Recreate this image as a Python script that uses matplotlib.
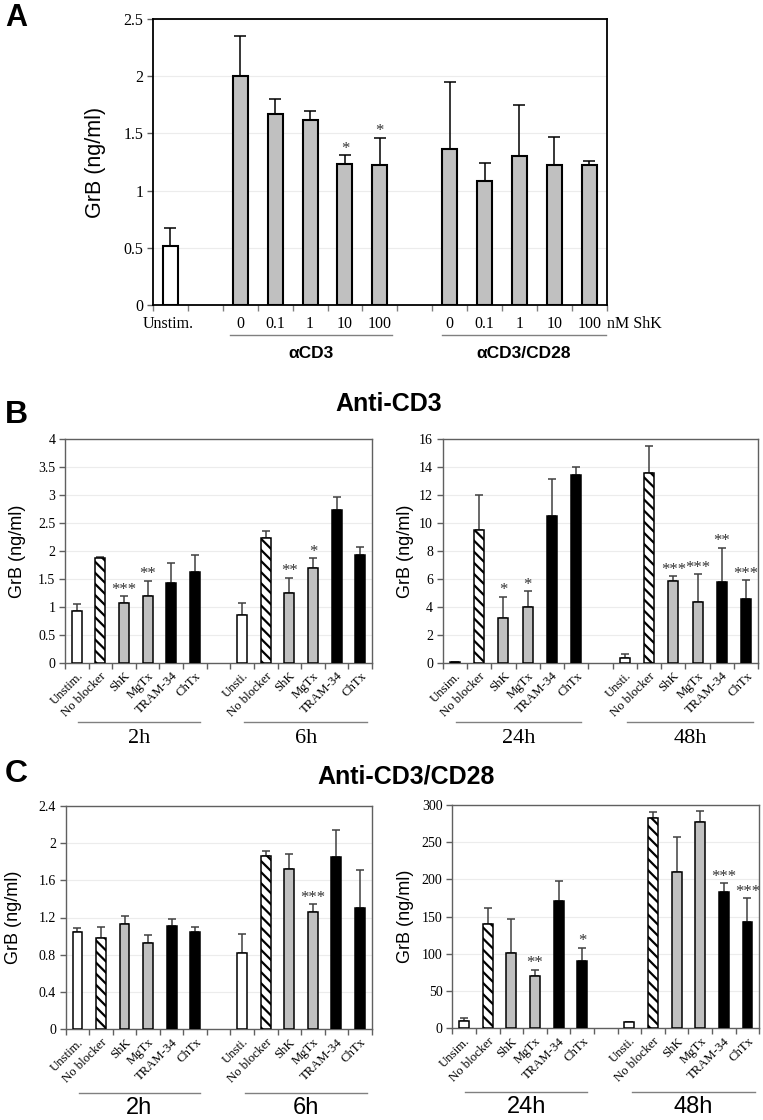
import matplotlib
matplotlib.use('Agg')
import matplotlib.pyplot as plt
import numpy as np
from matplotlib.transforms import blended_transform_factory
from matplotlib.lines import Line2D

SERIF = 'Liberation Serif'
SANS = 'Liberation Sans'
plt.rcParams['hatch.linewidth'] = 1.6

# ---------------- data ----------------
# Panel A
a_doses = ['0', '0.1', '1', '10', '100']
a_unstim_val = 0.52
a_unstim_err = 0.15
a_cd3_vals = [2.00, 1.67, 1.62, 1.23, 1.22]
a_cd3_errs = [0.35, 0.13, 0.08, 0.08, 0.24]
a_cd3_sig = ['', '', '', '*', '*']
a_cd28_vals = [1.36, 1.08, 1.30, 1.22, 1.22]
a_cd28_errs = [0.59, 0.16, 0.45, 0.25, 0.04]
a_cd28_sig = ['', '', '', '', '']
a_yticks = [0, 0.5, 1, 1.5, 2, 2.5]
a_yticklabels = ['0', '0.5', '1', '1.5', '2', '2.5']

treat_first = ['Unstim.', 'No blocker', 'ShK', 'MgTx', 'TRAM-34', 'ChTx']
treat_first_r = ['Unsim.', 'No blocker', 'ShK', 'MgTx', 'TRAM-34', 'ChTx']
treat_second = ['Unsti.', 'No blocker', 'ShK', 'MgTx', 'TRAM-34', 'ChTx']

# Panel B (anti-CD3)
b_2h_vals = [0.93, 1.87, 1.08, 1.19, 1.42, 1.62]
b_2h_errs = [0.12, 0.03, 0.11, 0.28, 0.37, 0.30]
b_2h_sig = ['', '', '***', '**', '', '']
b_6h_vals = [0.85, 2.23, 1.25, 1.69, 2.74, 1.92]
b_6h_errs = [0.23, 0.12, 0.27, 0.18, 0.23, 0.16]
b_6h_sig = ['', '', '**', '*', '', '']
b_24h_vals = [0.05, 9.48, 3.18, 4.01, 10.5, 13.45]
b_24h_errs = [0.03, 2.50, 1.57, 1.10, 2.65, 0.57]
b_24h_sig = ['', '', '*', '*', '', '']
b_48h_vals = [0.38, 13.6, 5.87, 4.37, 5.80, 4.58]
b_48h_errs = [0.24, 1.87, 0.31, 1.96, 2.44, 1.34]
b_48h_sig = ['', '', '***', '***', '**', '***']
b_left_yticks = [0, 0.5, 1, 1.5, 2, 2.5, 3, 3.5, 4]
b_left_ytl = ['0', '0.5', '1', '1.5', '2', '2.5', '3', '3.5', '4']
b_right_yticks = [0, 2, 4, 6, 8, 10, 12, 14, 16]
b_right_ytl = ['0', '2', '4', '6', '8', '10', '12', '14', '16']

# Panel C (anti-CD3/CD28)
c_2h_vals = [1.04, 0.976, 1.127, 0.93, 1.109, 1.04]
c_2h_errs = [0.047, 0.118, 0.093, 0.082, 0.071, 0.054]
c_2h_sig = ['', '', '', '', '', '']
c_6h_vals = [0.815, 1.856, 1.717, 1.255, 1.849, 1.302]
c_6h_errs = [0.21, 0.054, 0.161, 0.086, 0.286, 0.404]
c_6h_sig = ['', '', '', '***', '', '']
c_24h_vals = [9.9, 140.6, 100.7, 70.3, 170.6, 90.9]
c_24h_errs = [3.5, 21.4, 45.7, 8.1, 27.8, 17.0]
c_24h_sig = ['', '', '', '**', '', '*']
c_48h_vals = [9.0, 283.0, 210.4, 276.7, 183.6, 142.8]
c_48h_errs = [0.0, 7.0, 46.6, 14.8, 11.2, 31.8]
c_48h_sig = ['', '', '', '', '***', '***']
c_left_yticks = [0, 0.4, 0.8, 1.2, 1.6, 2.0, 2.4]
c_left_ytl = ['0', '0.4', '0.8', '1.2', '1.6', '2', '2.4']
c_right_yticks = [0, 50, 100, 150, 200, 250, 300]
c_right_ytl = ['0', '50', '100', '150', '200', '250', '300']

# ---------------- styles ----------------
treat_face = ['white', 'white', '#c0c0c0', '#c0c0c0', 'black', 'black']
treat_hatch = [None, '\\\\\\', None, None, None, None]

W, H = 763, 1120
fig = plt.figure(figsize=(W / 100, H / 100), dpi=100)


def add_ax(l, t, r, b):
    return fig.add_axes([l / W, 1 - b / H, (r - l) / W, (b - t) / H])


def style_axes(ax, yticks, ytl, ylim, spine_col, spine_lw, tick_fs):
    ax.set_xlim(0, 13)
    ax.set_ylim(*ylim)
    ax.set_yticks(yticks)
    ax.set_yticklabels(ytl, fontfamily=SERIF, fontsize=tick_fs)
    ax.set_xticks(np.arange(0, 14))
    ax.set_xticklabels([])
    ax.tick_params(axis='x', which='major', direction='out', length=4,
                   color='#606060', width=1)
    ax.tick_params(axis='y', direction='out', length=4, color='#606060',
                   width=1, pad=3)
    for s in ax.spines.values():
        s.set_color(spine_col)
        s.set_linewidth(spine_lw)
    ax.set_axisbelow(True)
    ax.yaxis.grid(True, color='#ececec', lw=0.8)


def draw_bars(ax, xs, vals, errs, faces, hatches, sigs, ecol, lw, capsize,
              width, star_fs):
    for x, v, f, h in zip(xs, vals, faces, hatches):
        ax.bar(x, v, width=width, color=f, edgecolor='black', linewidth=lw,
               hatch=h, zorder=3)
    ax.errorbar(xs, vals, yerr=[np.zeros(len(vals)), errs], fmt='none',
                ecolor=ecol, elinewidth=1.1, capsize=capsize, capthick=1.1,
                zorder=2)
    for x, v, e, s in zip(xs, vals, errs, sigs):
        if s:
            ax.annotate(s, (x, v + e), xytext=(0, -1), textcoords='offset points',
                        ha='center', va='bottom', fontfamily=SERIF,
                        fontsize=star_fs, color='#333333')


# ---------------- Panel A ----------------
axA = add_ax(153, 19, 606.7, 305)
style_axes(axA, a_yticks, a_yticklabels, (0, 2.5), 'black', 1.3, 11.5)
axA.tick_params(axis='x', which='major', color='#808080')
xa_un = [0.5]
xa_cd3 = np.arange(2, 7) + 0.5
xa_cd28 = np.arange(8, 13) + 0.5
draw_bars(axA, xa_un, [a_unstim_val], [a_unstim_err], ['white'], [None], [''],
          'black', 1.5, 4.5, 0.43, 12)
draw_bars(axA, xa_cd3, a_cd3_vals, a_cd3_errs, ['#c0c0c0'] * 5, [None] * 5,
          a_cd3_sig, 'black', 1.5, 4.5, 0.43, 12)
draw_bars(axA, xa_cd28, a_cd28_vals, a_cd28_errs, ['#c0c0c0'] * 5, [None] * 5,
          a_cd28_sig, 'black', 1.5, 4.5, 0.43, 12)
axA.set_ylabel('GrB (ng/ml)', fontfamily=SANS, fontsize=15.5)
axA.yaxis.label.set_va('center')
axA.yaxis.set_label_coords(-0.126, 0.5)
trA = blended_transform_factory(axA.transData, axA.transAxes)
axA.text(0.45, -0.066, 'Unstim.', transform=trA, ha='center', va='center',
         fontfamily=SERIF, fontsize=11.5)
for xs in (xa_cd3, xa_cd28):
    for x, d in zip(xs, a_doses):
        axA.text(x, -0.066, d, transform=trA, ha='center', va='center',
                 fontfamily=SERIF, fontsize=11.5)
axA.text(13.0, -0.066, 'nM ShK', transform=trA, ha='left', va='center',
         fontfamily=SERIF, fontsize=11.5)
for (x0, x1, lab) in ((2.2, 6.86, 'αCD3'), (8.29, 12.97, 'αCD3/CD28')):
    axA.add_line(Line2D([x0, x1], [-0.105, -0.105], transform=trA,
                        color='#808080', lw=1, clip_on=False))
    axA.text((x0 + x1) / 2, -0.168, lab, transform=trA, ha='center',
             va='center', fontfamily=SANS, fontweight='bold', fontsize=12.5)
fig.text(5 / W, 1 - 18 / H, 'A', fontfamily=SANS, fontweight='bold',
         fontsize=22, ha='left', va='center')


# ---------------- Panels B & C ----------------
def timepanel(box, vals1, errs1, sig1, vals2, errs2, sig2, labs1, labs2,
              yticks, ytl, ylim, ylab_x, glabs, gfont, gsize, line_y, glab_y):
    ax = add_ax(*box)
    style_axes(ax, yticks, ytl, ylim, '#606060', 1.0, 10)
    x1 = np.arange(0, 6) + 0.5
    x2 = np.arange(7, 13) + 0.5
    draw_bars(ax, x1, vals1, errs1, treat_face, treat_hatch, sig1, '#404040',
              1.1, 3, 0.42, 12)
    draw_bars(ax, x2, vals2, errs2, treat_face, treat_hatch, sig2, '#404040',
              1.1, 3, 0.42, 12)
    ax.set_xticks(np.concatenate([x1, x2]), minor=True)
    ax.set_xticklabels(list(labs1) + list(labs2), minor=True, rotation=45,
                       ha='right', rotation_mode='anchor', fontfamily=SERIF,
                       fontsize=9.2)
    ax.tick_params(axis='x', which='minor', length=0, pad=5)
    ax.set_ylabel('GrB (ng/ml)', fontfamily=SANS, fontsize=13)
    ax.yaxis.label.set_va('center')
    ax.yaxis.set_label_coords(ylab_x, 0.5)
    tr = blended_transform_factory(ax.transData, ax.transAxes)
    for (a, b, lab) in ((0.55, 5.7, glabs[0]), (7.6, 12.8, glabs[1])):
        ax.add_line(Line2D([a, b], [line_y, line_y], transform=tr,
                           color='#808080', lw=1, clip_on=False))
        ax.text((a + b) / 2, glab_y, lab, transform=tr, ha='center',
                va='center', fontfamily=gfont, fontsize=gsize)
    return ax


timepanel((65, 439, 372, 663), b_2h_vals, b_2h_errs, b_2h_sig, b_6h_vals,
          b_6h_errs, b_6h_sig, treat_first, treat_second, b_left_yticks,
          b_left_ytl, (0, 4), -0.156, ('2h', '6h'), SERIF, 16, -0.263, -0.335)
timepanel((442.7, 439, 758.3, 663), b_24h_vals, b_24h_errs, b_24h_sig,
          b_48h_vals, b_48h_errs, b_48h_sig, treat_first_r, treat_second,
          b_right_yticks, b_right_ytl, (0, 16), -0.119, ('24h', '48h'), SERIF,
          16, -0.263, -0.335)
timepanel((65.7, 805.7, 371.7, 1029.3), c_2h_vals, c_2h_errs, c_2h_sig,
          c_6h_vals, c_6h_errs, c_6h_sig, treat_first, treat_second,
          c_left_yticks, c_left_ytl, (0, 2.4), -0.169, ('2h', '6h'), SANS, 17,
          -0.285, -0.352)
timepanel((452.3, 805, 759.3, 1028.3), c_24h_vals, c_24h_errs, c_24h_sig,
          c_48h_vals, c_48h_errs, c_48h_sig, treat_first_r, treat_second,
          c_right_yticks, c_right_ytl, (0, 300), -0.154, ('24h', '48h'), SANS,
          17, -0.285, -0.352)

fig.text(389 / W, 1 - 404 / H, 'Anti-CD3', fontfamily=SANS, fontweight='bold',
         fontsize=18, ha='center', va='center')
fig.text(5 / W, 1 - 415 / H, 'B', fontfamily=SANS, fontweight='bold',
         fontsize=23, ha='left', va='center')
fig.text(406 / W, 1 - 776 / H, 'Anti-CD3/CD28', fontfamily=SANS,
         fontweight='bold', fontsize=18, ha='center', va='center')
fig.text(5 / W, 1 - 774 / H, 'C', fontfamily=SANS, fontweight='bold',
         fontsize=23, ha='left', va='center')

fig.savefig('out.png', dpi=100, facecolor='white')
